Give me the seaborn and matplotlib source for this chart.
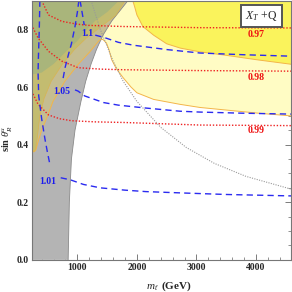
import numpy as np
import pandas as pd
import seaborn as sns
import matplotlib.pyplot as plt
from matplotlib.ticker import MultipleLocator

# plot range
X_MIN, X_MAX = 230, 4590
Y_MIN, Y_MAX = 0.0, 0.9

# right edge of the gray excluded region
gray_y = [0.0, 0.2, 0.35, 0.45, 0.55, 0.62, 0.68, 0.73, 0.78, 0.83, 0.9]
gray_m = [845, 865, 900, 960, 1060, 1140, 1230, 1320, 1430, 1580, 1850]

# lower edge of the pale yellow region
pale_m = [150, 240, 270, 300, 340, 400, 500, 590, 790, 1010, 1200, 1300, 1376, 1430,
          1490, 1530, 1576, 1650, 1770, 1900, 2000, 2280, 2720, 3060, 3600, 4100, 4700]
pale_y = [0.39, 0.385, 0.375, 0.38, 0.41, 0.45, 0.50, 0.55, 0.62, 0.678, 0.72, 0.745, 0.764, 0.765,
          0.752, 0.73, 0.695, 0.665, 0.632, 0.60, 0.58, 0.557, 0.54, 0.529, 0.518, 0.508, 0.498]

# lower edge of the bright yellow region
bright_m = [1930, 1960, 2000, 2100, 2280, 2500, 2730, 3060, 3500, 4000, 4700]
bright_y = [0.9, 0.88, 0.85, 0.81, 0.78, 0.75, 0.735, 0.722, 0.71, 0.695, 0.676]

# olive tongue / band inside the gray region
olive_m = [150, 240, 270, 300, 330, 370, 440, 560, 750, 950, 1150, 1400, 1650, 1800]
olive_y = [0.39, 0.38, 0.375, 0.385, 0.43, 0.50, 0.56, 0.62, 0.68, 0.73, 0.77, 0.81, 0.85, 0.9]

# green region in the upper left
green_m = [150, 400, 600, 815, 1000, 1128, 1300, 1500, 1700]
green_y = [0.64, 0.65, 0.68, 0.724, 0.76, 0.793, 0.83, 0.86, 0.9]

# blue dashed contours (two pieces each, broken at the label)
c101_a_m = [370, 360, 345, 340, 350, 400, 455, 500, 540]
c101_a_y = [0.9, 0.8, 0.7, 0.65, 0.57, 0.49, 0.42, 0.37, 0.33]
c101_b_m = [720, 880, 1100, 1385, 1800, 2150, 2800, 3500, 4600]
c101_b_y = [0.285, 0.278, 0.262, 0.25, 0.242, 0.237, 0.232, 0.227, 0.222]

c105_a_m = [1025, 1000, 960, 900, 850, 793, 760]
c105_a_y = [0.9, 0.86, 0.81, 0.75, 0.713, 0.667, 0.63]
c105_b_m = [960, 1010, 1123, 1441, 1690, 2150, 2723, 3060, 3800, 4600]
c105_b_y = [0.59, 0.586, 0.569, 0.546, 0.537, 0.527, 0.516, 0.513, 0.509, 0.506]

c11_a_m = [1045, 1070, 1095, 1115]
c11_a_y = [0.9, 0.87, 0.84, 0.815]
c11_b_m = [1300, 1450, 1690, 1945, 2500, 3060, 3800, 4600]
c11_b_y = [0.78, 0.772, 0.755, 0.745, 0.73, 0.718, 0.712, 0.707]

# red dotted contours
c97_m = [400, 515, 737, 1000, 1185, 1770, 3060, 4600]
c97_y = [0.9, 0.85, 0.828, 0.818, 0.814, 0.81, 0.806, 0.805]
c98_m = [230, 340, 515, 737, 1012, 1400, 1770, 3060, 4600]
c98_y = [0.816, 0.77, 0.724, 0.69, 0.667, 0.662, 0.66, 0.657, 0.655]
c99_m = [230, 340, 515, 700, 900, 1300, 1770, 3060, 4600]
c99_y = [0.586, 0.54, 0.503, 0.49, 0.483, 0.479, 0.477, 0.468, 0.466]

# gray dotted curve
dot_m = [1230, 1385, 1600, 1770, 2000, 2400, 2830, 3300, 3830, 4600]
dot_y = [0.9, 0.8, 0.69, 0.62, 0.55, 0.46, 0.39, 0.335, 0.29, 0.245]

# contour labels
blue_labels = ["1.01", "1.05", "1.1"]
blue_pos = [(500, 0.272), (740, 0.586), (1160, 0.787)]
red_labels = ["0.97", "0.98", "0.99"]
red_pos = [(4000, 0.781), (4000, 0.633), (4000, 0.449)]

x_ticks = [1000, 2000, 3000, 4000]
y_ticks = [0.0, 0.2, 0.4, 0.6, 0.8]


def region_above(ax, ms, ys, color, z, top=1.2):
    xs = list(ms) + [ms[-1], ms[0]]
    yy = list(ys) + [top, top]
    return ax.fill(xs, yy, color=color, lw=0, zorder=z)[0]


def draw_line(ax, ms, ys, **kw):
    df = pd.DataFrame({"m": ms, "s": ys})
    sns.lineplot(data=df, x="m", y="s", sort=False, estimator=None, ax=ax, **kw)


sns.set_theme(style="ticks")
plt.rcParams["font.family"] = ["Liberation Serif", "DejaVu Serif"]
plt.rcParams["mathtext.fontset"] = "custom"
plt.rcParams["mathtext.rm"] = "Liberation Serif"
plt.rcParams["mathtext.it"] = "Liberation Serif:italic"
plt.rcParams["mathtext.bf"] = "Liberation Serif:bold"

fig, ax = plt.subplots(figsize=(2.92, 2.92), dpi=100)
fig.subplots_adjust(left=0.108, right=0.997, bottom=0.11, top=0.998)

# filled regions
region_above(ax, pale_m, pale_y, "#fffcc4", 1)
region_above(ax, bright_m, bright_y, "#faf35c", 2)
gxs = [0] + gray_m + [gray_m[-1] + 200, 0]
gys = [0.0] + gray_y + [1.2, 1.2]
gray_patch = ax.fill(gxs, gys, color="#b4b4b4", lw=0, zorder=3)[0]
tan = region_above(ax, pale_m, pale_y, "#c5bd91", 4)
tan.set_clip_path(gray_patch)
olive = region_above(ax, olive_m, olive_y, "#c3bc70", 5)
olive.set_clip_path(gray_patch)
green = region_above(ax, green_m, green_y, "#a9b57b", 6)
green.set_clip_path(gray_patch)

# region edges
draw_line(ax, gray_m, gray_y, color="#8a8a8a", lw=0.6, zorder=7)
draw_line(ax, pale_m, pale_y, color="#f3b548", lw=0.7, zorder=7)
draw_line(ax, bright_m, bright_y, color="#f3b548", lw=0.7, zorder=7)
draw_line(ax, olive_m, olive_y, color="#d9b450", lw=0.5, zorder=7)

# contours
dotted_red = dict(color="#ee2222", lw=1.0, linestyle=(0, (1, 1.3)), zorder=8)
for ms, ys in [(c97_m, c97_y), (c98_m, c98_y), (c99_m, c99_y)]:
    draw_line(ax, ms, ys, **dotted_red)
draw_line(ax, dot_m, dot_y, color="#9a9a9a", lw=0.8, linestyle=(0, (1, 1.2)), zorder=8)
dashed_blue = dict(color="#2a2af0", lw=1.0, linestyle=(0, (4.5, 3)), zorder=9)
for ms, ys in [(c101_a_m, c101_a_y), (c101_b_m, c101_b_y), (c105_a_m, c105_a_y),
               (c105_b_m, c105_b_y), (c11_a_m, c11_a_y), (c11_b_m, c11_b_y)]:
    draw_line(ax, ms, ys, **dashed_blue)

for lab, (xm, ym) in zip(blue_labels, blue_pos):
    ax.text(xm, ym, lab, color="#1a1aee", fontsize=7, fontweight="bold",
            ha="center", va="center", zorder=10)
for lab, (xm, ym) in zip(red_labels, red_pos):
    ax.text(xm, ym, lab, color="#ee1111", fontsize=7, fontweight="bold",
            ha="center", va="center", zorder=10)

ax.text(0.885, 0.94, r"$X_T$ +Q", transform=ax.transAxes, ha="center", va="center",
        fontsize=8.5, zorder=11,
        bbox=dict(boxstyle="square,pad=0.35", fc="white", ec="#555555", lw=1.4))

ax.set_xlim(X_MIN, X_MAX)
ax.set_ylim(Y_MIN, Y_MAX)
ax.set_xticks(x_ticks)
ax.set_yticks(y_ticks)
ax.set_xticklabels([str(t) for t in x_ticks], fontweight="bold", fontsize=7)
ax.set_yticklabels([f"{t:.1f}" for t in y_ticks], fontweight="bold", fontsize=7)
ax.xaxis.set_minor_locator(MultipleLocator(200))
ax.yaxis.set_minor_locator(MultipleLocator(0.05))
ax.tick_params(which="both", direction="in", top=True, right=True, color="#666666", pad=2)
ax.tick_params(which="major", length=4, width=0.6)
ax.tick_params(which="minor", length=2, width=0.5)
for sp in ax.spines.values():
    sp.set_color("#777777")
    sp.set_linewidth(0.8)
    sp.set_zorder(12)

ax.set_xlabel(r"$m_{t'}$ (GeV)", fontsize=8, fontweight="bold")
ax.set_ylabel(r"$\mathbf{sin}\ \theta^{u'}_R$", fontsize=7.5)
ax.xaxis.set_label_coords(0.53, -0.075)
ax.yaxis.set_label_coords(-0.062, 0.47)

fig.savefig("out.png", dpi=100)
